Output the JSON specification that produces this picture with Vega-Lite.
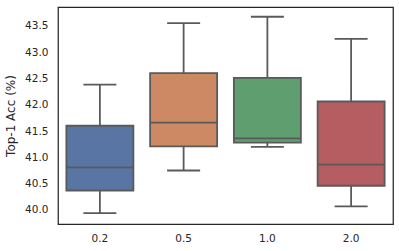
{
  "$schema": "https://vega.github.io/schema/vega-lite/v6.json",
  "width": 335,
  "height": 217,
  "autosize": {"type": "none"},
  "padding": {"left": 58, "top": 7, "right": 6, "bottom": 27},
  "background": "white",
  "config": {
    "view": {"stroke": "#262626", "strokeWidth": 1.25},
    "font": "DejaVu Sans",
    "axis": {"labelFont": "DejaVu Sans", "titleFont": "DejaVu Sans", "labelColor": "#262626", "titleColor": "#262626", "labelFontSize": 10.5, "titleFontSize": 12, "titleFontWeight": "normal", "grid": false, "ticks": false, "domain": false, "labelOverlap": false}
  },
  "data": {
    "values": [
      {"cat": "0.2", "min": 39.94, "q1": 40.37, "median": 40.81, "q3": 41.6, "max": 42.38},
      {"cat": "0.5", "min": 40.75, "q1": 41.21, "median": 41.66, "q3": 42.6, "max": 43.55},
      {"cat": "1.0", "min": 41.2, "q1": 41.28, "median": 41.36, "q3": 42.51, "max": 43.67},
      {"cat": "2.0", "min": 40.07, "q1": 40.46, "median": 40.86, "q3": 42.06, "max": 43.25}
    ]
  },
  "encoding": {
    "x": {
      "field": "cat", "type": "nominal", "sort": null,
      "scale": {"paddingInner": 0, "paddingOuter": 0},
      "axis": {"title": null, "labelAngle": 0, "labelPadding": 9}
    },
    "y": {"field": "min", "type": "quantitative",
      "scale": {"domain": [39.734, 43.855], "nice": false, "zero": false},
      "axis": {"title": "Top-1 Acc (%)", "values": [40, 40.5, 41, 41.5, 42, 42.5, 43, 43.5], "format": ".1f", "labelPadding": 10, "titlePadding": 7}}
  },
  "layer": [
    {
      "mark": {"type": "rule", "color": "#5a5a5a", "strokeWidth": 1.8},
      "encoding": {
        "y2": {"field": "max"}
      }
    },
    {
      "mark": {"type": "bar", "width": {"band": 0.8}, "stroke": "#5a5a5a", "strokeWidth": 1.8},
      "encoding": {
        "y": {"field": "q1", "type": "quantitative", "title": "Top-1 Acc (%)"},
        "y2": {"field": "q3"},
        "color": {"field": "cat", "type": "nominal", "legend": null,
          "scale": {"domain": ["0.2", "0.5", "1.0", "2.0"], "range": ["#5975a4", "#cc8963", "#5f9e6e", "#b55d60"]}}
      }
    },
    {
      "mark": {"type": "tick", "color": "#5a5a5a", "thickness": 1.8, "size": 67, "opacity": 1},
      "encoding": {"y": {"field": "median", "type": "quantitative", "title": "Top-1 Acc (%)"}}
    },
    {
      "mark": {"type": "tick", "color": "#5a5a5a", "thickness": 1.8, "size": 33, "opacity": 1},
      "encoding": {}
    },
    {
      "mark": {"type": "tick", "color": "#5a5a5a", "thickness": 1.8, "size": 33, "opacity": 1},
      "encoding": {"y": {"field": "max", "type": "quantitative", "title": "Top-1 Acc (%)"}}
    }
  ]
}
